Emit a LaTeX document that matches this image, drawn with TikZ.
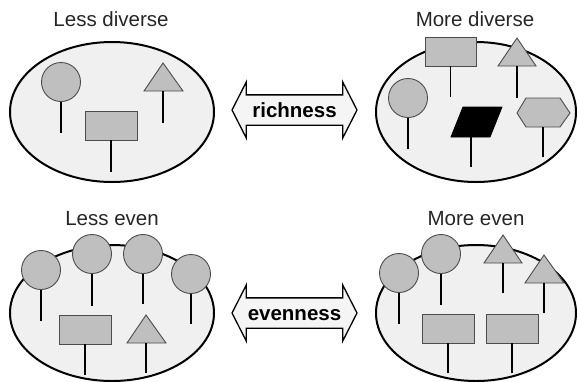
\documentclass[tikz,border=0pt]{standalone}
\usepackage{fontspec}
\setmainfont{Liberation Sans}
\usetikzlibrary{shapes.arrows,shapes.geometric}

\begin{document}
\begin{tikzpicture}[x=1pt,y=-1pt,font=\fontsize{20.5}{24}\selectfont,
  plot/.style={draw,line width=2pt,fill=black!6},
  sp/.style={draw=black!70,line width=0.9pt,fill=black!25},
  circ/.style={sp,circle,minimum size=39,inner sep=0},
  box/.style={sp,rectangle,minimum width=52,minimum height=29,inner sep=0},
  stem/.style={line width=1.1pt},
  ttl/.style={anchor=base,text=black!85},
  dbl/.style={double arrow,draw,line width=1.3pt,fill=black!4,font=\fontsize{20.5}{24}\selectfont\bfseries,
    double arrow head extend=13,double arrow tip angle=126,minimum height=125,
    inner xsep=4,inner ysep=7,text height=15,text depth=0}]
  \useasboundingbox (0,0) rectangle (577,381);

  % less diverse
  \node[ttl] (tLD) at (111,26) {Less diverse};
  \draw[plot] (112,112) ellipse [x radius=102,y radius=70];
  \node[circ] (ld1) at (61,82) {};
  \draw[stem] (ld1.south) -- ++(0,31) coordinate (ld1e);
  \draw[sp] (144,91) -- (163,63) -- (183,91) -- cycle;
  \coordinate (ld2) at (163,91);
  \draw[stem] (ld2) -- ++(0,32) coordinate (ld2e);
  \node[box] (ld3) at (111,125.5) {};
  \draw[stem] (ld3.south) -- ++(0,32) coordinate (ld3e);

  % more diverse
  \node[ttl] (tMD) at (475,26) {More diverse};
  \draw[plot] (476,112) ellipse [x radius=100,y radius=70];
  \node[box,minimum width=51] (md1) at (450.5,51.5) {};
  \draw[stem] (md1.south) -- ++(0,31) coordinate (md1e);
  \draw[sp] (498,66) -- (517,38) -- (536,66) -- cycle;
  \coordinate (md2) at (517,66);
  \draw[stem] (md2) -- ++(0,32) coordinate (md2e);
  \node[circ] (md3) at (408,98) {};
  \draw[stem] (md3.south) -- ++(0,31) coordinate (md3e);
  \draw[draw=black,line width=0.9pt,fill=black] (451,137) -- (490,137) -- (502,107) -- (463,107) -- cycle;
  \coordinate (md4) at (471,137);
  \draw[stem] (md4) -- ++(0,30) coordinate (md4e);
  \draw[sp] (517,113) -- (526,98) -- (560,98) -- (570,113) -- (560,127) -- (526,127) -- cycle;
  \coordinate (md5) at (543,127);
  \draw[stem] (md5) -- ++(0,30) coordinate (md5e);

  % less even
  \node[ttl] (tLE) at (112,225) {Less even};
  \draw[plot] (112,313) ellipse [x radius=102,y radius=68];
  \node[circ] (le1) at (41,270) {};
  \draw[stem] (le1.south) -- ++(0,31) coordinate (le1e);
  \node[circ] (le2) at (92,254) {};
  \draw[stem] (le2.south) -- ++(0,32) coordinate (le2e);
  \node[circ] (le3) at (143,254) {};
  \draw[stem] (le3.south) -- ++(0,30) coordinate (le3e);
  \node[circ] (le4) at (191,274) {};
  \draw[stem] (le4.south) -- ++(0,30) coordinate (le4e);
  \node[box] (le5) at (85,329.5) {};
  \draw[stem] (le5.south) -- ++(0,31) coordinate (le5e);
  \draw[sp] (127,343) -- (146,315) -- (166,343) -- cycle;
  \coordinate (le6) at (146,343);
  \draw[stem] (le6) -- ++(0,30) coordinate (le6e);

  % more even
  \node[ttl] (tME) at (476,225) {More even};
  \draw[plot] (476,313) ellipse [x radius=100,y radius=68];
  \node[circ] (me1) at (399,273) {};
  \draw[stem] (me1.south) -- ++(0,31) coordinate (me1e);
  \node[circ] (me2) at (441,254) {};
  \draw[stem] (me2.south) -- ++(0,31) coordinate (me2e);
  \draw[sp] (484,263) -- (503,235) -- (522,263) -- cycle;
  \coordinate (me3) at (503,263);
  \draw[stem] (me3) -- ++(0,30) coordinate (me3e);
  \draw[sp] (525,283) -- (544,255) -- (564,283) -- cycle;
  \coordinate (me4) at (544,283);
  \draw[stem] (me4) -- ++(0,30) coordinate (me4e);
  \node[box] (me5) at (448,328.5) {};
  \draw[stem] (me5.south) -- ++(0,30) coordinate (me5e);
  \node[box] (me6) at (512,328.5) {};
  \draw[stem] (me6.south) -- ++(0,30) coordinate (me6e);

  % double arrows
  \node[dbl] (rich) at (294.5,110) {richness};
  \node[dbl] (even) at (294.5,313) {evenness};
\end{tikzpicture}
\end{document}
